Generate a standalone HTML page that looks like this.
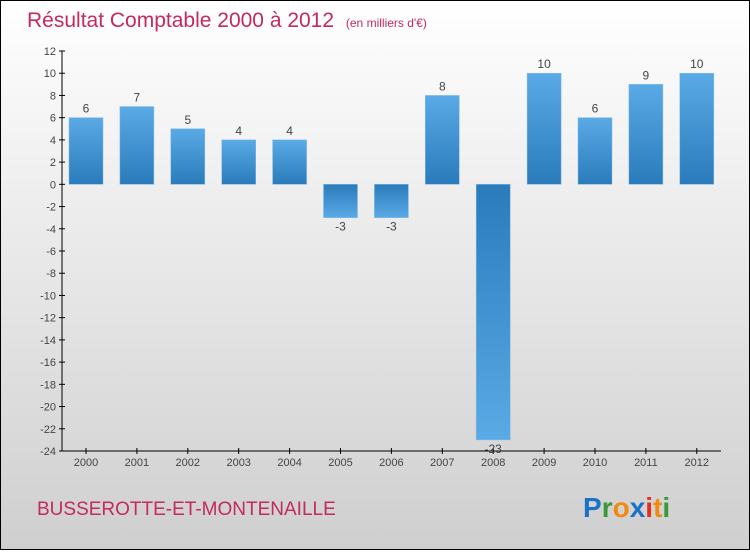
<!DOCTYPE html>
<html><head><meta charset="utf-8"><style>
html,body{margin:0;padding:0}
body{width:750px;height:550px;overflow:hidden;font-family:"Liberation Sans",sans-serif}
#wrap{position:absolute;left:0;top:0;width:748px;height:548px;border:1px solid #000;background:linear-gradient(#ffffff,#cfcfcf)}
</style></head><body>
<div id="wrap">
<svg id="chart" width="748" height="548">
<defs>
<linearGradient id="gpos" x1="0" y1="0" x2="0" y2="1"><stop offset="0" stop-color="#5aaae6"/><stop offset="1" stop-color="#2a7bbb"/></linearGradient>
<linearGradient id="gneg" x1="0" y1="0" x2="0" y2="1"><stop offset="0" stop-color="#2a7bbb"/><stop offset="1" stop-color="#5aaae6"/></linearGradient>
</defs>
<text x="26" y="26" font-size="21" fill="#c42a5c">Résultat Comptable 2000 à 2012 <tspan font-size="12" dx="6">(en milliers d'€)</tspan></text>
<g id="grid"></g>
<g id="bars"></g>
<text x="36" y="514" font-size="19" fill="#c42a5c">BUSSEROTTE-ET-MONTENAILLE</text>
<text x="582" y="516" font-size="28" font-weight="bold"><tspan fill="#1a72c8">P</tspan><tspan fill="#3a9a3a">r</tspan><tspan fill="#f08a10">o</tspan><tspan fill="#1a72c8">x</tspan><tspan fill="#e03020">i</tspan><tspan fill="#f08a10">t</tspan><tspan fill="#3a9a3a">i</tspan></text>
</svg>
</div>
<script>
const years=["2000","2001","2002","2003","2004","2005","2006","2007","2008","2009","2010","2011","2012"];
const values=[6,7,5,4,4,-3,-3,8,-23,10,6,9,10];
const yTicks=[12,10,8,6,4,2,0,-2,-4,-6,-8,-10,-12,-14,-16,-18,-20,-22,-24];
const NS="http://www.w3.org/2000/svg";
const yMin=-24,yMax=12,yTopPx=50,yBotPx=450;
function y(v){return yBotPx-(v-yMin)/(yMax-yMin)*(yBotPx-yTopPx);}
function x(i){return 85+i*50.9;}
function mk(t,a,p){const e=document.createElementNS(NS,t);for(const k in a)e.setAttribute(k,a[k]);p.appendChild(e);return e;}
const g=document.getElementById('grid'),b=document.getElementById('bars');
const ax=mk('line',{x1:61,y1:yTopPx,x2:61,y2:yBotPx,stroke:'#000'},g);


const bx=mk('line',{x1:61,y1:yBotPx,x2:720,y2:yBotPx,stroke:'#000'},g);


yTicks.forEach(v=>{
 mk('line',{x1:58,y1:y(v),x2:64,y2:y(v),stroke:'#000'},g);
 const t=mk('text',{x:55,y:y(v)+4,'font-size':11,fill:'#444','text-anchor':'end'},g);
 t.textContent=v;
 
 
});
years.forEach((yr,i)=>{
 mk('line',{x1:x(i),y1:yBotPx-3,x2:x(i),y2:yBotPx+3,stroke:'#000'},g);
 const t=mk('text',{x:x(i),y:yBotPx+15,'font-size':11,fill:'#444','text-anchor':'middle'},g);
 t.textContent=yr;
 
 
 const v=values[i],y0=y(0),yv=y(v);
 const r=mk('rect',{x:x(i)-17,y:Math.min(y0,yv),width:34,height:Math.abs(yv-y0),fill:v>=0?'url(#gpos)':'url(#gneg)',stroke:'#7fbbe8','stroke-width':0.5},b);
 
 
 const l=mk('text',{x:x(i),y:v>=0?yv-5:yv+13,'font-size':12,fill:'#444','text-anchor':'middle'},b);
 l.textContent=v;
 
 
});
</script>
</body></html>
